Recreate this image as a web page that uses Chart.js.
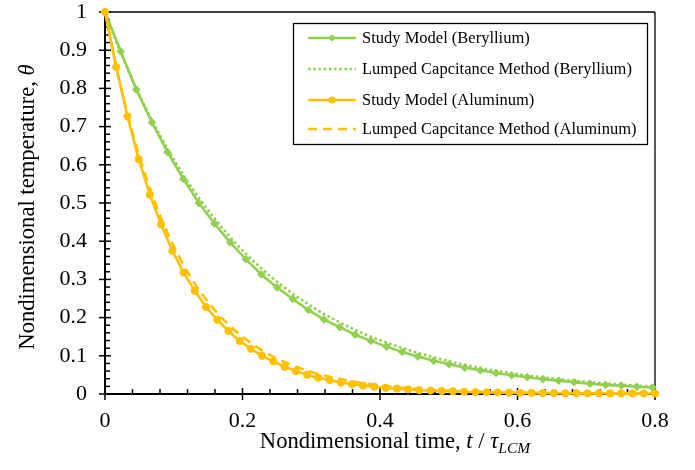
<!DOCTYPE html>
<html><head><meta charset="utf-8">
<script src="https://cdn.jsdelivr.net/npm/chart.js@4.4.0/dist/chart.umd.min.js"></script>
<style>html,body{margin:0;padding:0;background:#fff}#wrap{width:695px;height:470px}</style>
</head><body><div id="wrap"><canvas id="c" width="695" height="470"></canvas></div>
<script>
// series
const seriesNames=['Study Model (Beryllium)','Lumped Capcitance Method (Beryllium)','Study Model (Aluminum)','Lumped Capcitance Method (Aluminum)']
const beTime=[0,0.0228,0.0455,0.0683,0.091,0.1138,0.1365,0.1593,0.182,0.2048,0.2275,0.2503,0.273,0.2958,0.3185,0.3413,0.364,0.3868,0.4095,0.4323,0.455,0.4778,0.5005,0.5233,0.546,0.5688,0.5915,0.6143,0.637,0.6598,0.6825,0.7053,0.728,0.7508,0.7735,0.7963]
const beStudy=[1,0.897,0.797,0.711,0.633,0.563,0.500,0.446,0.397,0.353,0.313,0.279,0.249,0.220,0.195,0.175,0.155,0.139,0.124,0.110,0.098,0.087,0.078,0.069,0.062,0.055,0.049,0.044,0.039,0.035,0.031,0.027,0.024,0.022,0.019,0.017]
const lcmTime=[0,0.02,0.04,0.06,0.08,0.1,0.12,0.14,0.16,0.18,0.2,0.22,0.24,0.26,0.28,0.3,0.32,0.34,0.36,0.38,0.4,0.42,0.44,0.46,0.48,0.5,0.52,0.54,0.56,0.58,0.6,0.62,0.64,0.66,0.68,0.7,0.72,0.74,0.76,0.78,0.8]
const beLcm=[1,0.906,0.822,0.746,0.677,0.614,0.557,0.505,0.458,0.415,0.376,0.341,0.309,0.280,0.254,0.230,0.208,0.189,0.171,0.155,0.141,0.128,0.116,0.105,0.095,0.086,0.0775,0.070,0.0635,0.0575,0.052,0.047,0.0428,0.0388,0.035,0.0317,0.0287,0.026,0.0235,0.0213,0.0193]
const alTime=[0,0.0163,0.0327,0.049,0.0653,0.0816,0.098,0.1143,0.1306,0.1469,0.1633,0.1796,0.1959,0.2122,0.2286,0.2449,0.2612,0.2776,0.2939,0.3102,0.3265,0.3429,0.3592,0.3755,0.3918,0.4082,0.4245,0.4408,0.4571,0.4735,0.4898,0.5061,0.5224,0.5388,0.5551,0.5714,0.5878,0.6041,0.6204,0.6367,0.6531,0.6694,0.6857,0.702,0.7184,0.7347,0.751,0.7673,0.7837,0.8]
const alStudy=[1,0.856,0.727,0.615,0.522,0.444,0.375,0.318,0.270,0.228,0.194,0.165,0.139,0.1185,0.100,0.0855,0.0714,0.060,0.0505,0.0427,0.0366,0.030,0.0257,0.022,0.019,0.016,0.014,0.012,0.010,0.009,0.008,0.007,0.006,0.005,0.0045,0.004,0.0035,0.003,0.003,0.0025,0.0025,0.002,0.002,0.002,0.002,0.0015,0.0015,0.0015,0.0015,0.0015]
const alLcm=[1,0.827,0.684,0.566,0.468,0.387,0.320,0.264,0.219,0.181,0.150,0.124,0.102,0.0846,0.070,0.0578,0.0478,0.0396,0.0327,0.0271,0.0224,0.0185,0.0153,0.0127,0.0105,0.0087,0.0072,0.0059,0.0049,0.0040,0.0033,0.0028,0.0023,0.0019,0.0016,0.0013,0.0011,0.0009,0.0007,0.0006,0.0005]

const GREEN='#92D050', ORANGE='#FFC000'
const FONT='"Liberation Serif","Times New Roman",serif'
const pts=(xs,ys)=>xs.map((t,i)=>({x:t,y:ys[i]}))

const datasets=[
  {label:seriesNames[0],data:pts(beTime,beStudy),borderColor:GREEN,backgroundColor:GREEN,borderWidth:2.6,pointStyle:'rectRot',pointRadius:3.8,pointBorderWidth:1,order:4},
  {label:seriesNames[1],data:pts(lcmTime,beLcm),borderColor:GREEN,borderWidth:2.6,borderDash:[2.6,2.6],pointRadius:0,order:3,cubicInterpolationMode:'monotone'},
  {label:seriesNames[2],data:pts(alTime,alStudy),borderColor:ORANGE,backgroundColor:ORANGE,borderWidth:2.6,pointStyle:'circle',pointRadius:3.6,pointBorderWidth:1,order:2},
  {label:seriesNames[3],data:pts(lcmTime,alLcm),borderColor:ORANGE,borderWidth:2.6,borderDash:[9,6],pointRadius:0,order:1,cubicInterpolationMode:'monotone'}
]
datasets.forEach(d=>{d.clip=false;d.fill=false})

function marker(ctx,style,x,y,r,color){
  ctx.save();ctx.fillStyle=color;ctx.beginPath()
  if(style==='rectRot'){ctx.moveTo(x,y-r);ctx.lineTo(x+r,y);ctx.lineTo(x,y+r);ctx.lineTo(x-r,y);ctx.closePath()}
  else ctx.arc(x,y,r,0,Math.PI*2)
  ctx.fill();ctx.restore()
}
function richText(ctx,parts,x,y){
  let cx=x
  parts.forEach(p=>{ctx.font=p.f;ctx.fillText(p.t,cx,y+(p.dy||0));cx+=ctx.measureText(p.t).width})
}
function richWidth(ctx,parts){
  return parts.reduce((s,p)=>{ctx.font=p.f;return s+ctx.measureText(p.t).width},0)
}

const frame={id:'frame',beforeDatasetsDraw(chart){
  const {ctx,chartArea:a,scales:{x,y}}=chart
  ctx.save()
  ctx.strokeStyle='#404040';ctx.lineWidth=2
  ctx.beginPath();ctx.moveTo(a.left,a.top);ctx.lineTo(a.right,a.top);ctx.stroke()
  ctx.strokeStyle='#000';ctx.lineWidth=1.3
  ctx.beginPath();ctx.moveTo(a.right,a.top);ctx.lineTo(a.right,a.bottom);ctx.stroke()
  ctx.lineWidth=1.5
  // y ticks: major crossing, 4 minor inside
  const yt=y.ticks.map(t=>t.value)
  yt.forEach((v,i)=>{
    const py=y.getPixelForValue(v)
    ctx.beginPath();ctx.moveTo(a.left-6,py);ctx.lineTo(a.left+6,py);ctx.stroke()
    if(i<yt.length-1){for(let k=1;k<5;k++){const m=y.getPixelForValue(v+(yt[i+1]-v)*k/5);ctx.beginPath();ctx.moveTo(a.left,m);ctx.lineTo(a.left+5,m);ctx.stroke()}}
  })
  const xt=x.ticks.map(t=>t.value)
  xt.forEach((v,i)=>{
    const px=x.getPixelForValue(v)
    ctx.beginPath();ctx.moveTo(px,a.bottom-6);ctx.lineTo(px,a.bottom+6);ctx.stroke()
    if(i<xt.length-1){for(let k=1;k<5;k++){const m=x.getPixelForValue(v+(xt[i+1]-v)*k/5);ctx.beginPath();ctx.moveTo(m,a.bottom);ctx.lineTo(m,a.bottom-5);ctx.stroke()}}
  })
  ctx.restore()
},afterDraw(chart){
  const {ctx}=chart
  ctx.save();ctx.fillStyle='#000';ctx.textBaseline='alphabetic'
  // axis titles
  const xt=[{t:'Nondimensional time, ',f:'22.6px '+FONT},{t:'t',f:'italic 22.6px '+FONT},{t:' / ',f:'22.6px '+FONT},{t:'τ',f:'italic 22.6px '+FONT},{t:'LCM',f:'italic 15.5px '+FONT,dy:5}]
  richText(ctx,xt,395-richWidth(ctx,xt)/2,448)
  const yt=[{t:'Nondimensional temperature, ',f:'22.6px '+FONT},{t:'θ',f:'italic 22.6px '+FONT}]
  ctx.save();ctx.translate(34,207);ctx.rotate(-Math.PI/2)
  richText(ctx,yt,-richWidth(ctx,yt)/2,0);ctx.restore()
  // legend box
  ctx.strokeStyle='#000';ctx.lineWidth=1.3
  ctx.strokeRect(293.5,23.5,354,121)
  const rows=[38,69,100,129]
  chart.data.datasets.forEach((d,i)=>{
    const ry=rows[i]
    ctx.save();ctx.strokeStyle=d.borderColor;ctx.lineWidth=d.borderWidth;ctx.setLineDash(d.borderDash||[])
    ctx.beginPath();ctx.moveTo(308,ry);ctx.lineTo(356,ry);ctx.stroke();ctx.restore()
    if(d.pointRadius>0)marker(ctx,d.pointStyle,332,ry,d.pointRadius,d.borderColor)
    ctx.font='16.5px '+FONT;ctx.textBaseline='middle';ctx.fillText(d.label,362,ry+1)
  })
  ctx.restore()
}}

new Chart(document.getElementById('c'),{
  type:'line',
  data:{datasets},
  options:{
    responsive:false,animation:false,
    layout:{padding:{left:0,right:40,top:12,bottom:0}},
    plugins:{legend:{display:false},tooltip:{enabled:false}},
    elements:{line:{tension:0}},
    scales:{
      x:{type:'linear',min:0,max:0.8,
        ticks:{stepSize:0.2,color:'#000',font:{family:FONT,size:22},padding:14,maxRotation:0,callback:v=>String(+v.toFixed(2))},
        grid:{display:false,drawTicks:false},border:{display:true,color:'#000',width:2},
        afterFit:s=>{s.height=76;s.paddingLeft=0;s.paddingRight=0}},
      y:{type:'linear',min:0,max:1,
        ticks:{stepSize:0.1,color:'#000',font:{family:FONT,size:22},padding:18,callback:v=>String(+v.toFixed(2))},
        grid:{display:false,drawTicks:false},border:{display:true,color:'#000',width:2},
        afterFit:s=>{s.width=105;s.paddingTop=0;s.paddingBottom=0}}
    }
  },
  plugins:[frame]
})
</script></body></html>
